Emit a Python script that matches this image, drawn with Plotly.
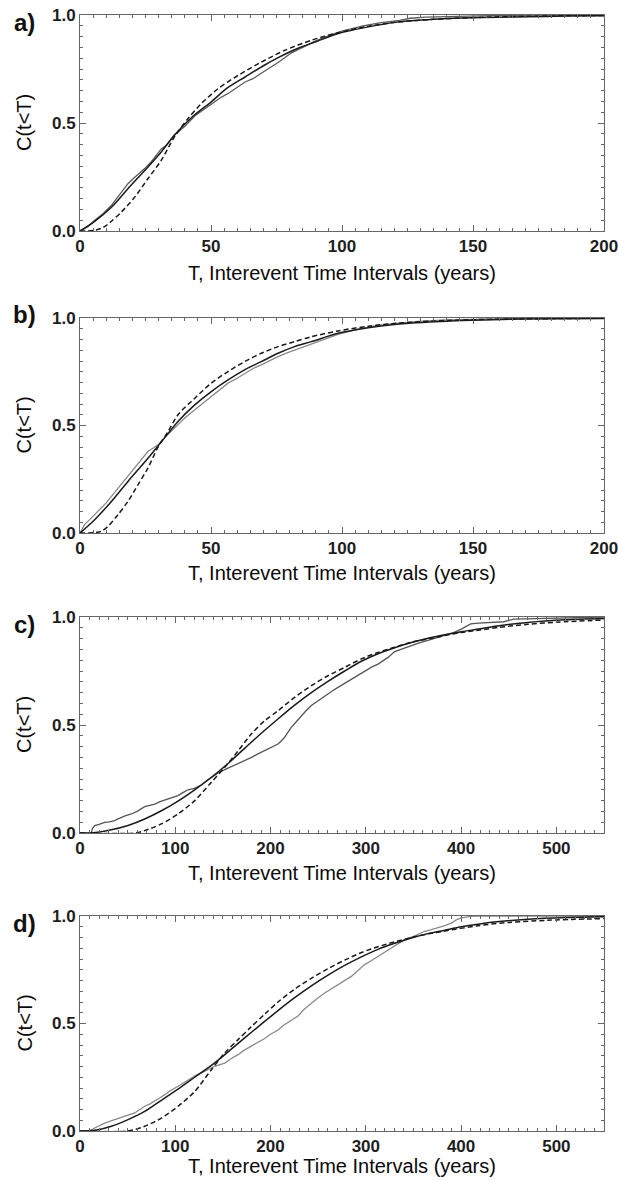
import plotly.graph_objects as go

# ---------------- data ----------------
# Panel a
a_emp_x = [0, 3, 5.6, 8.8, 12, 15, 18.3, 21, 24.7, 27, 29, 31, 33, 36, 40, 44, 47, 50, 54, 57, 60, 63, 66, 69, 72, 75.6, 78, 80.7, 85, 90, 95, 100, 108, 115, 122, 126, 132, 140, 150, 160, 175, 190, 200]
a_emp_y = [0, 0.02, 0.05, 0.08, 0.119, 0.165, 0.219, 0.25, 0.289, 0.318, 0.35, 0.38, 0.397, 0.443, 0.485, 0.535, 0.56, 0.585, 0.62, 0.64, 0.665, 0.69, 0.705, 0.73, 0.752, 0.78, 0.80, 0.825, 0.85, 0.88, 0.905, 0.925, 0.95, 0.965, 0.975, 0.985, 0.99, 0.993, 0.996, 0.998, 1.0, 1.0, 1.0]
a_fit_x = [0, 5.6, 12, 18.3, 24.7, 31, 36, 43, 50, 56, 63, 70, 76, 83, 90, 98, 110, 121, 135, 146, 160, 171, 185, 200]
a_fit_y = [0, 0.045, 0.11, 0.196, 0.28, 0.366, 0.443, 0.53, 0.597, 0.66, 0.713, 0.765, 0.805, 0.845, 0.876, 0.912, 0.945, 0.967, 0.98, 0.986, 0.99, 0.992, 0.995, 0.997]
a_alt_x = [0, 5, 8, 10, 12, 15.8, 20.9, 25.9, 31, 36, 41.2, 46.3, 52.7, 60.3, 69.2, 78.1, 88.3, 98.5, 110, 121, 135, 150, 170, 200]
a_alt_y = [0, 0.002, 0.012, 0.025, 0.045, 0.088, 0.157, 0.242, 0.327, 0.435, 0.52, 0.59, 0.659, 0.72, 0.782, 0.836, 0.883, 0.918, 0.948, 0.967, 0.98, 0.988, 0.994, 0.998]

# Panel b
b_emp_x = [0, 1.8, 3.5, 5.6, 8, 10, 12, 14, 16, 18.3, 20, 22.1, 24, 25.9, 28, 29.8, 32, 35, 37.4, 40, 43.8, 47, 50.1, 53, 56.5, 60, 62.8, 66, 69.2, 72, 75.6, 79, 81.9, 85, 88.3, 93, 98.5, 105, 112, 120, 130, 140, 150, 165, 180, 200]
b_emp_y = [0, 0.04, 0.06, 0.085, 0.115, 0.14, 0.17, 0.2, 0.235, 0.27, 0.295, 0.325, 0.35, 0.379, 0.395, 0.41, 0.44, 0.475, 0.503, 0.535, 0.573, 0.605, 0.635, 0.665, 0.697, 0.72, 0.743, 0.765, 0.782, 0.8, 0.82, 0.838, 0.851, 0.865, 0.877, 0.9, 0.924, 0.945, 0.962, 0.975, 0.985, 0.991, 0.995, 0.998, 1.0, 1.0]
b_fit_x = [0, 5.6, 12, 18.3, 24.7, 29.8, 37.4, 43.8, 50.1, 56.5, 62.8, 69.2, 75.6, 81.9, 88.3, 98.5, 110, 120, 135, 150, 170, 200]
b_fit_y = [0, 0.062, 0.147, 0.24, 0.33, 0.405, 0.519, 0.596, 0.658, 0.712, 0.759, 0.797, 0.836, 0.867, 0.89, 0.929, 0.955, 0.97, 0.983, 0.99, 0.995, 0.998]
b_alt_x = [0, 6, 8.1, 10.7, 14.5, 18.3, 22.1, 25.9, 29.8, 33.6, 37.4, 43.8, 50.1, 56.5, 62.8, 69.2, 75.6, 81.9, 88.3, 98.5, 110, 120, 135, 150, 170, 200]
b_alt_y = [0, 0.002, 0.008, 0.031, 0.085, 0.147, 0.224, 0.302, 0.4, 0.472, 0.55, 0.627, 0.697, 0.751, 0.797, 0.836, 0.867, 0.89, 0.913, 0.94, 0.962, 0.975, 0.986, 0.992, 0.996, 0.999]

# Panel c
c_emp_x = [0, 11.9, 13, 15.4, 20, 25.9, 31, 36.4, 40, 43.4, 48, 53.9, 60, 67.9, 73, 78.4, 84, 88.9, 95, 102.9, 108, 113.4, 120, 127.4, 132, 137.9, 145, 151.9, 157, 162.4, 167, 172.8, 180, 186.8, 192, 197.3, 203, 207.8, 211, 214.8, 218, 221.8, 227, 232.3, 237, 242.8, 250, 256.8, 264, 270.8, 278, 284.8, 292, 298.8, 306, 312.8, 318, 323.3, 330.3, 340, 347.8, 356, 365.3, 375, 382.8, 392, 400.3, 405, 410, 418, 430, 445, 455, 470, 490, 510, 530, 550]
c_emp_y = [0, 0, 0.02, 0.034, 0.04, 0.049, 0.052, 0.057, 0.065, 0.073, 0.08, 0.088, 0.1, 0.122, 0.128, 0.134, 0.145, 0.153, 0.16, 0.173, 0.187, 0.2, 0.207, 0.222, 0.238, 0.258, 0.278, 0.293, 0.303, 0.317, 0.325, 0.335, 0.35, 0.366, 0.378, 0.389, 0.4, 0.412, 0.425, 0.443, 0.465, 0.489, 0.515, 0.543, 0.565, 0.59, 0.612, 0.636, 0.655, 0.674, 0.693, 0.713, 0.733, 0.752, 0.768, 0.782, 0.798, 0.813, 0.84, 0.856, 0.869, 0.88, 0.892, 0.905, 0.915, 0.928, 0.944, 0.955, 0.968, 0.972, 0.975, 0.978, 0.99, 0.992, 0.995, 0.998, 1.0, 1.0]
c_fit_x = [0, 12, 32.9, 50.4, 67.9, 85.4, 102.9, 120.4, 137.9, 155.4, 172.8, 190.3, 207.8, 225.3, 242.8, 260.3, 277.8, 295.3, 312.8, 330.3, 347.8, 365.3, 382.8, 400.3, 417.8, 440, 470, 510, 550]
c_fit_y = [0, 0, 0.015, 0.035, 0.065, 0.103, 0.148, 0.2, 0.258, 0.322, 0.392, 0.462, 0.528, 0.592, 0.65, 0.702, 0.75, 0.795, 0.83, 0.858, 0.882, 0.902, 0.918, 0.932, 0.944, 0.96, 0.975, 0.987, 0.993]
c_alt_x = [0, 57.4, 67.9, 85.4, 102.9, 120.4, 137.9, 151.9, 165.9, 179.8, 193.8, 207.8, 225.3, 242.8, 260.3, 277.8, 295.3, 312.8, 330.3, 347.8, 365.3, 382.8, 400, 420, 440, 470, 500, 550]
c_alt_y = [0, 0, 0.011, 0.042, 0.088, 0.15, 0.235, 0.304, 0.38, 0.458, 0.52, 0.566, 0.628, 0.682, 0.728, 0.767, 0.806, 0.836, 0.86, 0.883, 0.898, 0.914, 0.928, 0.94, 0.952, 0.966, 0.976, 0.986]

# Panel d
d_emp_x = [0, 10, 15.4, 20, 25.9, 31, 36.4, 42, 46.9, 52, 57.4, 62, 67.9, 73, 78.4, 84, 88.9, 95, 102.9, 110, 116.9, 122, 127.4, 134, 141.4, 146, 151.9, 158, 165.9, 172, 179.8, 186, 193.8, 200, 207.8, 213, 218.3, 223, 228.8, 235, 242.8, 250, 256.8, 264, 270.8, 278, 284.8, 292, 298.8, 306, 312.8, 320, 326.8, 334, 340.8, 350, 361.8, 368, 375.8, 383, 389.8, 395, 400.3, 410, 420, 550]
d_emp_y = [0, 0, 0.014, 0.025, 0.037, 0.045, 0.053, 0.06, 0.068, 0.075, 0.084, 0.098, 0.115, 0.125, 0.138, 0.155, 0.169, 0.188, 0.208, 0.228, 0.247, 0.26, 0.27, 0.285, 0.301, 0.308, 0.316, 0.335, 0.355, 0.375, 0.394, 0.41, 0.43, 0.45, 0.47, 0.49, 0.505, 0.518, 0.535, 0.565, 0.595, 0.62, 0.642, 0.662, 0.681, 0.7, 0.719, 0.748, 0.774, 0.793, 0.812, 0.832, 0.851, 0.872, 0.89, 0.905, 0.929, 0.935, 0.944, 0.955, 0.967, 0.982, 0.991, 0.998, 1.0, 1.0]
d_fit_x = [0, 4.9, 18.9, 32.9, 50.4, 67.9, 85.4, 102.9, 120.4, 137.9, 155.4, 172.8, 190.3, 207.8, 225.3, 242.8, 260.3, 277.8, 295.3, 312.8, 330.3, 347.8, 365.3, 382.8, 400.3, 417.8, 440, 470, 510, 550]
d_fit_y = [0, 0, 0.006, 0.022, 0.053, 0.091, 0.143, 0.195, 0.25, 0.305, 0.368, 0.433, 0.497, 0.56, 0.62, 0.675, 0.725, 0.77, 0.81, 0.845, 0.873, 0.898, 0.918, 0.934, 0.95, 0.962, 0.974, 0.985, 0.993, 0.997]
d_alt_x = [0, 50.4, 67.9, 85.4, 102.9, 120.4, 137.9, 151.9, 165.9, 179.8, 193.8, 207.8, 225.3, 242.8, 260.3, 277.8, 295.3, 312.8, 330.3, 347.8, 365.3, 382.8, 417.8, 450, 490, 550]
d_alt_y = [0, 0, 0.022, 0.06, 0.115, 0.184, 0.285, 0.363, 0.425, 0.485, 0.543, 0.6, 0.66, 0.71, 0.755, 0.795, 0.83, 0.857, 0.88, 0.9, 0.917, 0.93, 0.955, 0.97, 0.98, 0.988]

panel_letters = ["a)", "b)", "c)", "d)"]
x_ranges = [[0, 200], [0, 200], [0, 550], [0, 550]]
x_ticks = [[0, 50, 100, 150, 200], [0, 50, 100, 150, 200],
           [0, 100, 200, 300, 400, 500], [0, 100, 200, 300, 400, 500]]
x_minor = [5, 5, 10, 10]
y_ticks = [0, 0.5, 1.0]
y_ticktext = ["0.0", "0.5", "1.0"]
x_title = "T, Interevent Time Intervals (years)"
y_title = "C(t<T)"

# ---------------- layout geometry (window pixels) ----------------
W, H = 619, 1180
PX_L, PX_R = 80, 604
panel_px = [(15, 231), (318, 533), (617, 833), (916, 1131)]  # top, bottom
xtitle_px = [273, 573, 873, 1166]
label_px = [23, 314, 624, 923]

def fx(p):
    return p / W

def fy(p):
    return 1 - p / H

FONT = "Liberation Sans, Arial, Helvetica, sans-serif"
AX = "#666666"

emp = [(a_emp_x, a_emp_y), (b_emp_x, b_emp_y), (c_emp_x, c_emp_y), (d_emp_x, d_emp_y)]
fit = [(a_fit_x, a_fit_y), (b_fit_x, b_fit_y), (c_fit_x, c_fit_y), (d_fit_x, d_fit_y)]
alt = [(a_alt_x, a_alt_y), (b_alt_x, b_alt_y), (c_alt_x, c_alt_y), (d_alt_x, d_alt_y)]
emp_colors = ["#5a5a5a", "#8a8a8a", "#555555", "#8a8a8a"]

fig = go.Figure()
annotations = []
layout = {}
for i in range(4):
    sfx = "" if i == 0 else str(i + 1)
    xa, ya = "x" + sfx, "y" + sfx
    fig.add_trace(go.Scatter(x=emp[i][0], y=emp[i][1], mode="lines", xaxis=xa, yaxis=ya,
                             line=dict(color=emp_colors[i], width=1.3), showlegend=False,
                             hoverinfo="skip"))
    fig.add_trace(go.Scatter(x=alt[i][0], y=alt[i][1], mode="lines", xaxis=xa, yaxis=ya,
                             line=dict(color="#1a1a1a", width=1.5, dash="5px,3px", shape="spline", smoothing=0.8),
                             showlegend=False, hoverinfo="skip"))
    fig.add_trace(go.Scatter(x=fit[i][0], y=fit[i][1], mode="lines", xaxis=xa, yaxis=ya,
                             line=dict(color="#1a1a1a", width=1.5, shape="spline", smoothing=0.8),
                             showlegend=False, hoverinfo="skip"))
    top, bot = panel_px[i]
    common = dict(showline=True, linecolor=AX, linewidth=1, mirror="ticks", ticks="inside",
                  ticklen=6, tickwidth=1, tickcolor=AX, showgrid=False, zeroline=False,
                  automargin=False, ticklabeloverflow="allow",
                  tickfont=dict(family=FONT, size=17, color="#1e1e1e", weight="bold"))
    layout["xaxis" + sfx] = dict(common, domain=[fx(PX_L), fx(PX_R)], range=x_ranges[i],
                                 tickmode="array", tickvals=x_ticks[i], anchor=ya,
                                 minor=dict(ticks="inside", ticklen=3, tickcolor=AX, tick0=0,
                                            dtick=x_minor[i], showgrid=False))
    layout["yaxis" + sfx] = dict(common, domain=[fy(bot), fy(top)], range=[0, 1],
                                 tickmode="array", tickvals=y_ticks, ticktext=y_ticktext,
                                 anchor=xa,
                                 minor=dict(ticks="inside", ticklen=3, tickcolor=AX, tick0=0,
                                            dtick=0.05, showgrid=False))
    annotations.append(dict(text=x_title, xref="paper", yref="paper",
                            x=fx((PX_L + PX_R) / 2), y=fy(xtitle_px[i]), showarrow=False,
                            xanchor="center", yanchor="middle",
                            font=dict(family=FONT, size=20, color="#0a0a0a")))
    annotations.append(dict(text=y_title.replace("<", "&lt;"), xref="paper", yref="paper",
                            x=fx(24), y=fy((top + bot) / 2), showarrow=False, textangle=-90,
                            xanchor="center", yanchor="middle",
                            font=dict(family=FONT, size=20, color="#0a0a0a")))
    annotations.append(dict(text=panel_letters[i], xref="paper", yref="paper",
                            x=fx(24), y=fy(label_px[i]), showarrow=False,
                            xanchor="center", yanchor="middle",
                            font=dict(family=FONT, size=24, color="#111111", weight="bold")))

fig.update_layout(width=W, height=H, margin=dict(l=0, r=0, t=0, b=0),
                  paper_bgcolor="white", plot_bgcolor="white", template="none",
                  hovermode=False, annotations=annotations, **layout)

# remove the browser's default 8px page margin so the figure fills the window exactly
fig.write_html("out.html", config={"displayModeBar": False, "staticPlot": True},
               post_script="document.body.style.margin='0';document.body.style.overflow='hidden';")
